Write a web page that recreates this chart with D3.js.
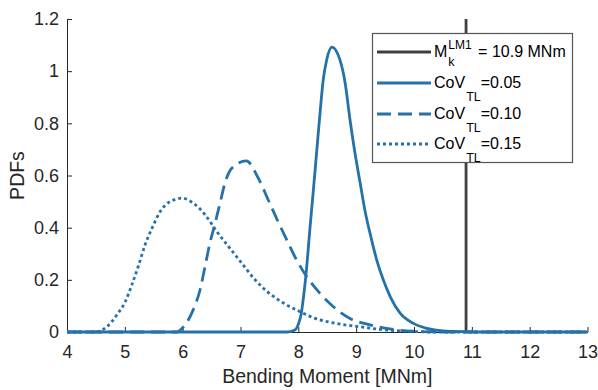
<!DOCTYPE html>
<html>
<head>
<meta charset="UTF-8">
<title>pdf_bending_moment</title>

<style type="text/css">
	body { margin: 0; background: #fff; }

	.axis path, .axis line {
		stroke: #262626;
		stroke-width: 1px;
	}

	.axis text {
		font-family: "Liberation Sans", Arial, sans-serif;
		font-size: 18px;
		fill: #262626;
	}

	.label {
		font-family: "Liberation Sans", Arial, sans-serif;
		font-size: 19.5px;
		fill: #262626;
		text-anchor: middle;
	}

	.legend text {
		font-family: "Liberation Sans", Arial, sans-serif;
		fill: #000;
	}
</style>

<script type="text/javascript" src="https://d3js.org/d3.v7.min.js" charset="utf-8"></script>

<script type="text/javascript">

	// bending moment [MNm] vs pdf
	var cov05 = [
		[4, 0], [7.80, 0], [7.94, 0.008], [8.0, 0.03], [8.05, 0.07], [8.09, 0.135], [8.145, 0.25],
		[8.20, 0.395], [8.26, 0.544], [8.32, 0.698], [8.375, 0.839], [8.43, 0.966], [8.49, 1.043],
		[8.58, 1.092], [8.72, 1.043], [8.81, 0.954], [8.894, 0.813], [8.98, 0.685], [9.07, 0.57],
		[9.15, 0.468], [9.24, 0.378], [9.356, 0.276], [9.47, 0.199], [9.59, 0.135], [9.76, 0.072],
		[9.99, 0.033], [10.22, 0.014], [10.5, 0.004], [10.9, 0.001], [11.2, 0], [13, 0]
	];

	var cov10 = [
		[4, 0], [5.90, 0], [5.99, 0.014], [6.18, 0.084], [6.30, 0.161], [6.386, 0.25], [6.47, 0.34],
		[6.56, 0.417], [6.645, 0.493], [6.73, 0.57], [6.85, 0.628], [7.1, 0.656], [7.31, 0.589],
		[7.48, 0.506], [7.65, 0.423], [7.80, 0.353], [7.97, 0.276], [8.145, 0.212], [8.375, 0.148],
		[8.606, 0.097], [8.894, 0.052], [9.24, 0.027], [9.70, 0.008], [10.0, 0.003], [10.5, 0], [13, 0]
	];

	var cov15 = [
		[4, 0], [4.40, 0], [4.52, 0.001], [4.69, 0.02], [4.86, 0.065], [5.007, 0.116], [5.12, 0.18],
		[5.24, 0.257], [5.35, 0.334], [5.47, 0.398], [5.61, 0.461], [5.785, 0.50], [5.99, 0.513],
		[6.19, 0.493], [6.39, 0.449], [6.59, 0.385], [6.77, 0.334], [7.0, 0.27], [7.23, 0.206],
		[7.46, 0.155], [7.75, 0.11], [8.03, 0.078], [8.29, 0.052], [8.6, 0.035], [9.07, 0.02],
		[9.5, 0.008], [9.81, 0.004], [10.3, 0], [13, 0]
	];

	var mk = 10.9;

	var xTicks = [4, 5, 6, 7, 8, 9, 10, 11, 12, 13];
	var yTicks = [0, 0.2, 0.4, 0.6, 0.8, 1, 1.2];

	var series = [
		{ data: cov05, dash: null },
		{ data: cov10, dash: "14,7" },
		{ data: cov15, dash: "3,3" }
	];

	// legend rows: main text, optional sup/sub, rest
	var legendRows = [
		{ main: "M", sup: "LM1", sub: "k", rest: " = 10.9 MNm" },
		{ main: "CoV", sup: null, sub: "TL", rest: "=0.05" },
		{ main: "CoV", sup: null, sub: "TL", rest: "=0.10" },
		{ main: "CoV", sup: null, sub: "TL", rest: "=0.15" }
	];

	function draw(svg_w, svg_h, id_svg_main) {

		var blue = "#2571aa";
		var dark = "#404040";

		var x = d3.scaleLinear().domain([4, 13]).range([67, 587.5]);
		var y = d3.scaleLinear().domain([0, 1.2]).range([332, 19]);

		var svg = d3.select(id_svg_main)
			.append("svg")
				.attr("width", svg_w)
				.attr("height", svg_h);

		// axes, ticks pointing inward
		svg.append("g")
			.attr("class", "x axis")
			.attr("transform", "translate(0," + y(0) + ")")
			.call(d3.axisBottom(x).tickValues(xTicks).tickSizeInner(-5).tickSizeOuter(0).tickPadding(13));

		svg.append("g")
			.attr("class", "y axis")
			.attr("transform", "translate(" + x(4) + ",0)")
			.call(d3.axisLeft(y).tickValues(yTicks).tickFormat(d3.format("~g")).tickSizeInner(-5).tickSizeOuter(0).tickPadding(8));

		// characteristic moment line
		svg.append("line")
			.attr("x1", x(mk)).attr("x2", x(mk))
			.attr("y1", y(0)).attr("y2", y(1.2))
			.attr("stroke", dark)
			.attr("stroke-width", 2.8);

		var line = d3.line()
			.x(function (d) { return x(d[0]); })
			.y(function (d) { return y(d[1]); })
			.curve(d3.curveMonotoneX);

		svg.selectAll("path.pdf")
			.data(series)
			.enter()
			.append("path")
				.attr("class", "pdf")
				.attr("d", function (d) { return line(d.data); })
				.attr("fill", "none")
				.attr("stroke", blue)
				.attr("stroke-width", 2.8)
				.attr("stroke-dasharray", function (d) { return d.dash; });

		// axis labels
		svg.append("text")
			.attr("class", "label")
			.attr("x", (x(4) + x(13)) / 2)
			.attr("y", 383)
			.text("Bending Moment [MNm]");

		svg.append("text")
			.attr("class", "label")
			.attr("transform", "translate(24," + ((y(0) + y(1.2)) / 2) + ") rotate(-90)")
			.text("PDFs");

		// legend
		var lg = svg.append("g").attr("class", "legend");

		lg.append("rect")
			.attr("x", 372.5).attr("y", 33.5)
			.attr("width", 200).attr("height", 129)
			.attr("fill", "#fff")
			.attr("stroke", "#555")
			.attr("stroke-width", 1.2);

		var rowY = [52, 83, 114, 144];
		var styles = [{ c: dark, dash: null }].concat(series.map(function (s) { return { c: blue, dash: s.dash }; }));

		legendRows.forEach(function (r, i) {
			lg.append("line")
				.attr("x1", 377).attr("x2", 431)
				.attr("y1", rowY[i]).attr("y2", rowY[i])
				.attr("stroke", styles[i].c)
				.attr("stroke-width", 2.8)
				.attr("stroke-dasharray", styles[i].dash);

			var base = rowY[i] + 5;
			var tx = 434;
			var m = lg.append("text").attr("x", tx).attr("y", base).style("font-size", "16px").text(r.main);
			tx += m.node().getComputedTextLength() + 1;

			var w = 0;
			if (r.sup) {
				var s = lg.append("text").attr("x", tx).attr("y", base - 8).style("font-size", "12px").text(r.sup);
				w = Math.max(w, s.node().getComputedTextLength());
			}
			if (r.sub) {
				var b = lg.append("text").attr("x", tx).attr("y", base + (r.sup ? 8.5 : 12.5)).style("font-size", "12.5px").text(r.sub);
				w = Math.max(w, b.node().getComputedTextLength());
			}
			tx += w + (r.sup ? 2 : 0);

			lg.append("text").attr("x", tx).attr("y", base).style("font-size", "16px").style("white-space", "pre").text(r.rest);
		});
	}

</script>
</head>
<body>

<div id="div_main"></div>

<script type="text/javascript">
	draw(598, 390, "#div_main");
</script>

</body>
</html>
